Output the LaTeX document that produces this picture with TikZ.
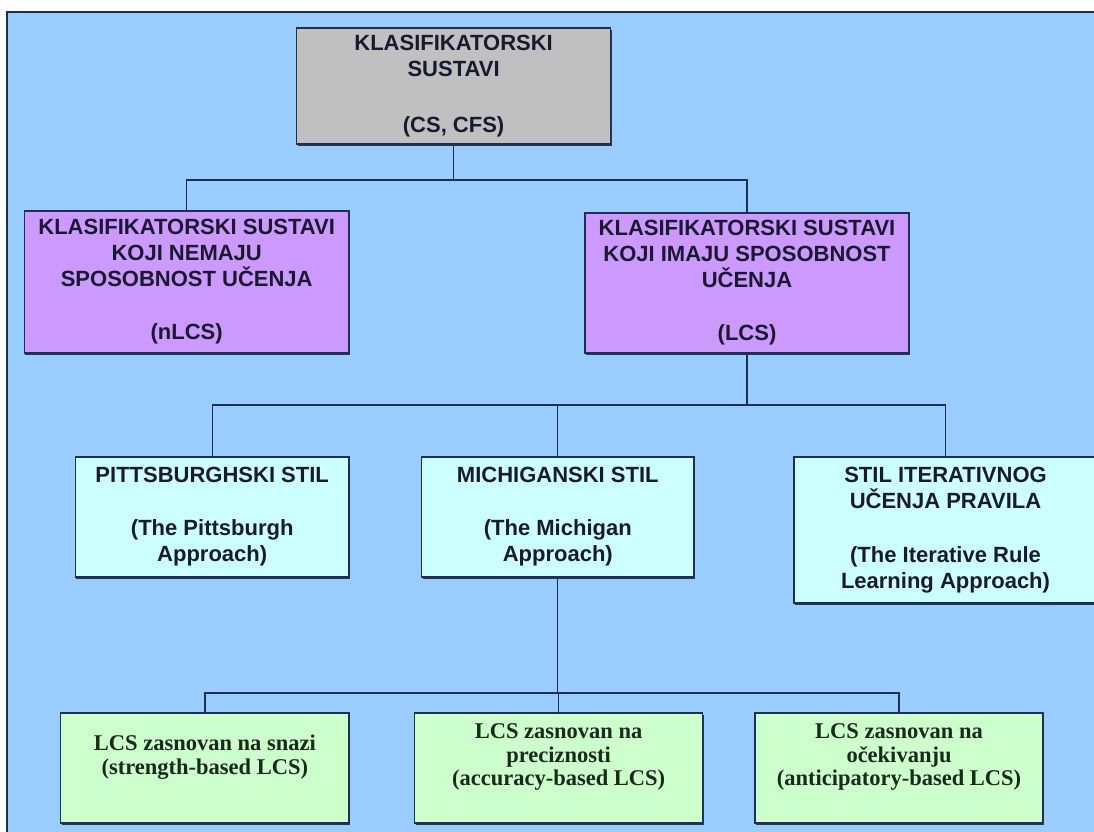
\documentclass[tikz,border=0pt]{standalone}
\usepackage{fontspec}
\setmainfont{Liberation Sans}
\newfontfamily\serifbold{Liberation Serif}
\definecolor{bgblue}{HTML}{99CCFF}
\definecolor{rootgray}{HTML}{C0C0C0}
\definecolor{purplebox}{HTML}{CC99FF}
\definecolor{cyanbox}{HTML}{CCFFFF}
\definecolor{greenbox}{HTML}{CCFFCC}
\definecolor{edge}{HTML}{1F2F4F}
\definecolor{shadowc}{HTML}{2A3550}
\definecolor{inktext}{HTML}{1A1A2E}
\definecolor{greenink}{HTML}{1A2A1A}
\tikzset{
  boxbase/.style={draw=edge, line width=1.2pt, align=center, inner sep=2pt,
    text=inktext,
    preaction={fill=shadowc, transform canvas={xshift=1pt,yshift=-2pt}}},
  sansbox/.style={boxbase, font=\fontsize{22}{26}\selectfont\bfseries},
  rootbox/.style={sansbox, fill=rootgray},
  purplebx/.style={sansbox, fill=purplebox},
  cyanbx/.style={sansbox, fill=cyanbox},
  greenbx/.style={boxbase, fill=greenbox},
  greentext/.style={align=center, inner sep=0pt, text=greenink,
    font=\serifbold\fontsize{22.5}{23.5}\selectfont\bfseries},
  conn/.style={draw=edge, line width=1.3pt}
}
\begin{document}
\begin{tikzpicture}[x=1pt,y=-1pt]
\useasboundingbox (0,0) rectangle (1094,831);
\fill[white] (0,0) rectangle (1094,831);
\draw[fill=bgblue, draw=edge, line width=1.5pt] (7,12) rectangle (1110,845);

% level 1
\node[rootbox, minimum width=314pt, minimum height=116pt] (root) at (453.6,86)
  {KLASIFIKATORSKI\\SUSTAVI\\[30pt](CS, CFS)};

% level 2
\node[purplebx, minimum width=324.6pt, minimum height=142pt] (nlcs) at (186.7,282)
  {KLASIFIKATORSKI SUSTAVI\\KOJI NEMAJU\\SPOSOBNOST UČENJA\\[27pt](nLCS)};
\node[purplebx, minimum width=324pt, minimum height=140pt] (lcs) at (747,283)
  {KLASIFIKATORSKI SUSTAVI\\KOJI IMAJU SPOSOBNOST\\UČENJA\\[27pt](LCS)};

% level 3
\node[cyanbx, minimum width=273.6pt, minimum height=120pt] (pitt) at (212.2,517)
  {PITTSBURGHSKI STIL\\[27pt](The Pittsburgh\\Approach)};
\node[cyanbx, minimum width=272.5pt, minimum height=120pt] (mich) at (557.8,517)
  {MICHIGANSKI STIL\\[27pt](The Michigan\\Approach)};
\node[cyanbx, minimum width=303pt, minimum height=146pt] (iter) at (945.5,530)
  {STIL ITERATIVNOG\\UČENJA PRAVILA\\[28pt](The Iterative Rule\\Learning Approach)};

% level 4
\node[greenbx, minimum width=288.3pt, minimum height=110pt] (g1) at (204.9,768) {};
\node[greenbx, minimum width=288.2pt, minimum height=110pt] (g2) at (558.6,768) {};
\node[greenbx, minimum width=288pt, minimum height=110pt] (g3) at (899,768) {};
\node[greentext] (g1t) at (204.9,757) {LCS zasnovan na snazi\\(strength-based LCS)};
\node[greentext] (g2t) at (558.6,757) {LCS zasnovan na\\preciznosti\\(accuracy-based LCS)};
\node[greentext] (g3t) at (899,757) {LCS zasnovan na\\očekivanju\\(anticipatory-based LCS)};

% connectors
\coordinate (j1) at (453.6,180);
\coordinate (j2) at (747,405);
\coordinate (j3) at (557.8,693);
\draw[conn] (root.south) -- (j1);
\draw[conn] (j1) -| (nlcs.north);
\draw[conn] (j1) -| (lcs.north);
\draw[conn] (lcs.south) -- (j2);
\draw[conn] (j2) -| (pitt.north);
\draw[conn] (j2) -| (iter.north);
\draw[conn] (j2 -| mich.north) -- (mich.north);
\draw[conn] (mich.south) -- (j3);
\draw[conn] (j3) -| (g1.north);
\draw[conn] (j3) -| (g3.north);
\draw[conn] (j3 -| g2.north) -- (g2.north);
\end{tikzpicture}
\end{document}
